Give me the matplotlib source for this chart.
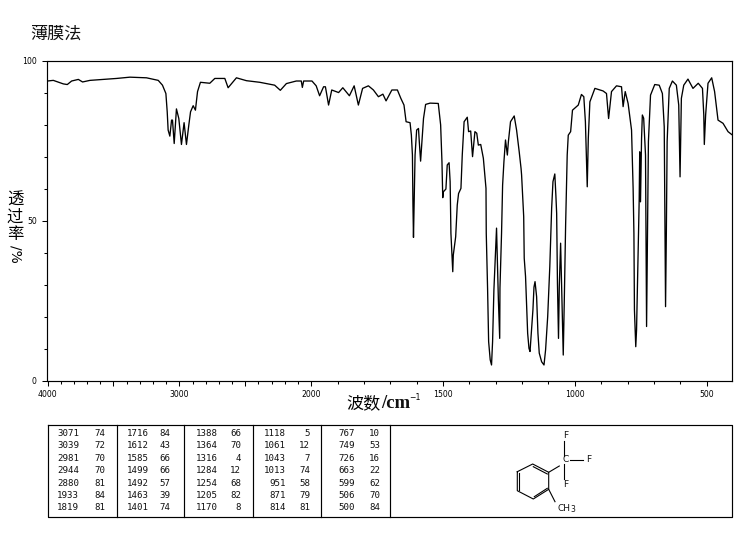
import numpy as np
import matplotlib
matplotlib.use("Agg")
import matplotlib.pyplot as plt

CJK = ["Noto Sans CJK SC", "DejaVu Sans"]

# spectrum
wavenumber = [
    4000, 3956, 3880, 3850, 3817, 3766, 3734, 3678, 3577, 3476, 3375, 3249, 3160, 3128, 3102, 3092,
    3085, 3072, 3059, 3052, 3039, 3022, 3004, 2984, 2964, 2946, 2928, 2915, 2895, 2878, 2862, 2840,
    2769, 2731, 2655, 2630, 2567, 2491, 2390, 2277, 2234, 2188, 2113, 2075, 2067, 2057, 1997, 1981,
    1968, 1953, 1946, 1934, 1922, 1896, 1880, 1855, 1837, 1821, 1805, 1783, 1764, 1745, 1728, 1716,
    1694, 1673, 1660, 1648, 1640, 1625, 1620, 1616, 1614, 1612, 1606, 1600, 1593, 1590, 1585, 1581,
    1574, 1566, 1549, 1518, 1509, 1504, 1501, 1499, 1489, 1484, 1477, 1473, 1470, 1466, 1463, 1461,
    1452, 1446, 1441, 1432, 1427, 1420, 1408, 1403, 1395, 1388, 1379, 1372, 1366, 1357, 1347, 1337,
    1336, 1331, 1327, 1321, 1316, 1312, 1307, 1300, 1297, 1295, 1290, 1285, 1284, 1278, 1274, 1269,
    1263, 1256, 1252, 1244, 1230, 1221, 1211, 1204, 1202, 1196, 1194, 1192, 1187, 1179, 1174, 1170,
    1165, 1159, 1155, 1151, 1145, 1140, 1135, 1126, 1117, 1111, 1103, 1095, 1088, 1083, 1076, 1072,
    1069, 1066, 1062, 1059, 1054, 1051, 1044, 1040, 1035, 1029, 1025, 1016, 1009, 987, 975, 966,
    960, 953, 949, 943, 924, 893, 880, 872, 861, 842, 823, 817, 809, 798, 785, 779,
    776, 774, 769, 766, 760, 756, 754, 751, 747, 744, 739, 732, 728, 725, 721, 713,
    697, 680, 668, 661, 656, 653, 650, 642, 630, 615, 606, 601, 596, 587, 571, 552,
    532, 516, 511, 509, 504, 495, 481, 470, 457, 438, 419, 405,
]
transmittance = [
    93.6, 93.8, 92.7, 92.5, 93.6, 94.1, 93.3, 93.8, 94.1, 94.4, 94.8, 94.6, 93.8, 92.3, 89.7, 84,
    78.3, 76.4, 81.4, 81.4, 74.1, 84.9, 81.9, 73.8, 80.6, 73.8, 79.9, 84, 85.9, 84.5, 90.3, 93.2,
    92.9, 94.4, 94.4, 91.5, 94.6, 93.7, 93.2, 92.3, 90.7, 92.8, 93.6, 93.6, 91.6, 93.6, 93.6, 92.1,
    89, 91.8, 91.8, 86.1, 90.8, 90, 91.5, 89, 92.1, 86.1, 91.3, 92.1, 90.8, 88.7, 89.5, 87.4,
    90.8, 90.8, 88.2, 86.1, 80.9, 80.6, 76.7, 70.5, 54.9, 44.8, 70.5, 78.3, 78.8, 74.7, 68.6, 73.6,
    81.9, 86.3, 86.7, 86.6, 79.9, 68.4, 57.2, 59, 59.9, 67.4, 68.1, 62.2, 46.1, 39.3, 34.1, 39.3,
    45, 54.9, 58.5, 60.1, 70.5, 80.9, 82.3, 77.8, 78, 70, 77.8, 77.3, 73.6, 73.8, 69.5, 60.1,
    46.1, 28.9, 12.3, 6.6, 5, 12.3, 28.4, 41.4, 47.7, 40.9, 25.3, 13.3, 29, 46.1, 61.1, 68.4,
    75.2, 70.5, 74.7, 80.9, 82.7, 78.3, 71.5, 66.3, 64.3, 54.9, 51.3, 38.3, 32.6, 14.9, 10.2, 9.2,
    14.9, 22.2, 29.3, 31, 26.3, 14.9, 8.7, 6, 5, 9.7, 20.1, 35.7, 53.9, 62.2, 64.6, 58,
    52.3, 30.5, 13.3, 29.5, 43, 32.6, 8.1, 25.3, 48.7, 70.5, 76.7, 77.8, 84.5, 86.1, 89.4, 88.7,
    80.9, 60.6, 75.7, 87.1, 91.3, 90.5, 89.7, 81.9, 90.3, 92.1, 91.8, 85.6, 90.3, 86.6, 78.3, 60.1,
    46.1, 22.2, 10.7, 15.9, 40.9, 56.5, 71.5, 55.9, 75.7, 83, 82, 70.5, 17, 40.9, 74.7, 89.2,
    92.5, 92.3, 89.7, 79.3, 23.2, 46.1, 74.7, 91.3, 93.6, 92.3, 86.1, 63.7, 88.2, 92.3, 94.2, 91.3,
    92.9, 91.3, 83, 73.8, 83, 92.9, 94.6, 90.3, 81.4, 80.4, 77.8, 76.9,
]

# peak table, five columns of seven rows
peak_wn = [
    ["3071", "3039", "2981", "2944", "2880", "1933", "1819"],
    ["1716", "1612", "1585", "1499", "1492", "1463", "1401"],
    ["1388", "1364", "1316", "1284", "1254", "1205", "1170"],
    ["1118", "1061", "1043", "1013", "951", "871", "814"],
    ["767", "749", "726", "663", "599", "506", "500"],
]
peak_t = [
    ["74", "72", "70", "70", "81", "84", "81"],
    ["84", "43", "66", "66", "57", "39", "74"],
    ["66", "70", "4", "12", "68", "82", "8"],
    ["5", "12", "7", "74", "58", "79", "81"],
    ["10", "53", "16", "22", "62", "70", "84"],
]

x_major = [4000, 3500, 3000, 2500, 2000, 1500, 1000, 500]
x_major_labels = ["4000", "", "3000", "", "2000", "1500", "1000", "500"]
y_labels = ["0", "50", "100"]

W, H = 741, 539


def fwd(w):
    w = np.asarray(w, dtype=float)
    return np.where(w <= 2000, w, 2000 + (w - 2000) / 2)


def inv(u):
    u = np.asarray(u, dtype=float)
    return np.where(u <= 2000, u, 2000 + (u - 2000) * 2)


fig = plt.figure(figsize=(W / 100, H / 100), dpi=100)

# =========================================================
# SPECTRUM
# =========================================================
ax = fig.add_axes([47.5 / W, 1 - 381 / H, (732 - 47.5) / W, (381 - 60.5) / H])
ax.set_xscale("function", functions=(fwd, inv))
ax.plot(wavenumber, transmittance, color="black", lw=0.95)
ax.set_xlim(4000, 404)
ax.set_ylim(0, 100)

ax.set_xticks(x_major)
ax.set_xticklabels(x_major_labels)
ax.set_xticks(np.arange(500, 4000, 100), minor=True)
ax.set_yticks([0, 50, 100])
ax.set_yticklabels(y_labels)
ax.set_yticks(np.arange(0, 101, 10), minor=True)
ax.tick_params(which="major", length=3.8, width=0.75, labelsize=5.6, pad=2.5)
ax.tick_params(which="minor", length=2.1, width=0.75)
ax.tick_params(axis="y", which="major", pad=4)
for s in ax.spines.values():
    s.set_linewidth(0.85)

# =========================================================
# OVERLAY IN PIXELS: TITLE, AXIS LABELS, TABLE, STRUCTURE
# =========================================================
ov = fig.add_axes([0, 0, 1, 1])
ov.set_xlim(0, W)
ov.set_ylim(H, 0)
ov.axis("off")
ov.patch.set_alpha(0)

ov.text(30.5, 34, "薄膜法", family=CJK, fontsize=12.3, ha="left", va="center", color="#111111")

for ch, yy in zip("透过率", [200, 217, 234.5]):
    ov.text(15, yy, ch, family=CJK, fontsize=11.8, fontweight="medium", ha="center", va="center", color="black")
ov.text(15, 254, "/%", fontsize=10, rotation=270, ha="center", va="center", color="black")

ov.text(346.5, 403, "波数", family=CJK, fontsize=12.3, fontweight="medium", ha="left", va="center", color="black")
ov.text(381, 403, "/cm", family="Liberation Serif", fontsize=13.5, fontweight="bold",
        ha="left", va="center", color="#111111")
ov.text(409.5, 398, "−1", fontsize=5.6, ha="left", va="center", color="black")

# table
tx0, tx1, ty0, ty1 = 47.5, 732, 424.5, 516.5
ov.plot([tx0, tx1, tx1, tx0, tx0], [ty0, ty0, ty1, ty1, ty0], color="black", lw=0.85)
col_lines = [116.7, 184.3, 253.3, 321.3, 390.3]
for c in col_lines:
    ov.plot([c, c], [ty0, ty1], color="black", lw=0.85)

row_y = [433.7, 445.7, 458.3, 470.3, 483, 495, 507.7]
wn_right = [79, 148.5, 217.5, 286, 355]
t_right = [105, 170.7, 241.3, 310, 380]
for j in range(5):
    for i in range(7):
        ov.text(wn_right[j], row_y[i], peak_wn[j][i], family="DejaVu Sans Mono", fontsize=6.6,
                ha="right", va="center", color="#111111")
        ov.text(t_right[j], row_y[i], peak_t[j][i], family="DejaVu Sans Mono", fontsize=6.6,
                ha="right", va="center", color="#111111")

# structure
ring_x = [517.3, 532.7, 548.7, 548.7, 533.3, 517.3, 517.3]
ring_y = [471.7, 464, 472.3, 489.3, 499, 490.7, 471.7]
ov.plot(ring_x, ring_y, color="black", lw=0.8)
bond_segments = [
    ((518.7, 473), (518.7, 489.5)),
    ((533.3, 466.7), (547.3, 474)),
    ((534.3, 496.7), (547.3, 488.3)),
    ((548.7, 472.3), (559.3, 466)),
    ((564.3, 440.7), (564.3, 456)),
    ((570, 460), (582.7, 460)),
    ((564.3, 464), (564.3, 479.3)),
    ((548.7, 489.3), (555, 501.7)),
]
for a, b in bond_segments:
    ov.plot([a[0], b[0]], [a[1], b[1]], color="black", lw=0.8)
atom_labels = [("F", 565.7, 435.7), ("C", 565.3, 460), ("F", 588.3, 460), ("F", 565.7, 484.3)]
for lab, xx, yy in atom_labels:
    ov.text(xx, yy, lab, fontsize=6.5, ha="center", va="center", color="#111111")
ov.text(558, 508.5, "CH", fontsize=6.5, ha="left", va="center", color="#111111")
ov.text(570.5, 510, "3", fontsize=5.5, ha="left", va="center", color="#111111")

fig.savefig("out.png", dpi=100)
